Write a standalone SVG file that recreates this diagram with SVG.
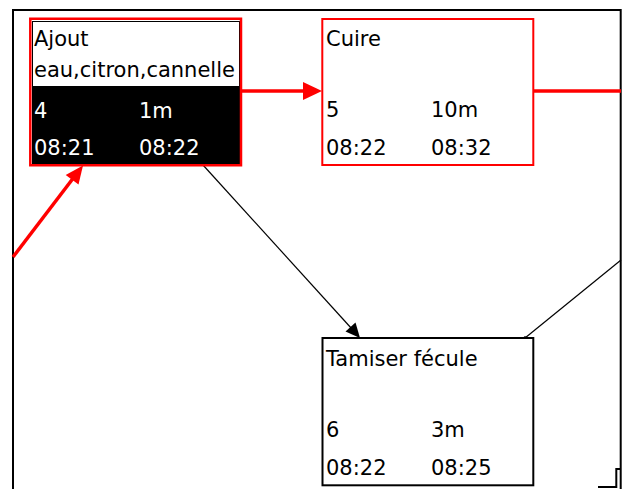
<svg xmlns="http://www.w3.org/2000/svg" width="625" height="489" viewBox="0 0 625 489">
  <style>
    .lbl { font-family: "DejaVu Sans", "Liberation Sans", sans-serif; font-size: 21px; fill: #000; }
    .inv { fill: #fff; }
    .frame { fill: none; stroke: #000; stroke-width: 2; }
    .crit { stroke: #ff0000; stroke-width: 3.5; fill: none; }
    .dep { stroke: #000; stroke-width: 1.2; fill: none; }
    .box { fill: #fff; stroke-width: 2; }
  </style>

  <rect width="625" height="489" fill="#fff"/>

  <!-- view frame (open at the bottom) -->
  <path class="frame" d="M13,489 V10 H620.7 V489"/>
  <path class="frame" d="M598,487 H616.3 V469 H621"/>

  <!-- connectors -->
  <g id="connectors">
    <!-- critical path -->
    <line class="crit" x1="13" y1="257" x2="76" y2="174.5"/>
    <polygon fill="#ff0000" points="83,165.5 78.5,184.6 65.7,175"/>
    <line class="crit" x1="242" y1="91" x2="306" y2="91"/>
    <polygon fill="#ff0000" points="322,91 303,82 303,100"/>
    <line class="crit" x1="533" y1="91" x2="621" y2="91" stroke-width="3"/>
    <!-- ordinary links -->
    <line class="dep" x1="203" y1="165" x2="352" y2="329"/>
    <polygon fill="#000" points="360,338 355.5,322.5 345.5,331.5"/>
    <line class="dep" x1="525" y1="338" x2="621" y2="260"/>
    <circle cx="525" cy="337.5" r="1.3" fill="#000"/>
  </g>

  <!-- task 4 : selected -->
  <g id="node-ajout">
    <rect x="32" y="21" width="207.5" height="65" fill="#fff"/>
    <rect x="32" y="86" width="207.5" height="77.5" fill="#000"/>
    <rect x="32.5" y="21.5" width="207" height="142" fill="none" stroke="#000" stroke-width="1"/>
    <rect x="30.3" y="18.75" width="210.7" height="146.5" fill="none" stroke="#ff0000" stroke-width="2.5"/>
    <text class="lbl" x="34" y="46">Ajout</text>
    <text class="lbl" x="34" y="77">eau,citron,cannelle</text>
    <text class="lbl inv" x="34" y="118">4</text>
    <text class="lbl inv" x="139" y="118">1m</text>
    <text class="lbl inv" x="34" y="155">08:21</text>
    <text class="lbl inv" x="139" y="155">08:22</text>
  </g>

  <!-- task 5 -->
  <g id="node-cuire">
    <rect class="box" x="322.3" y="19" width="211" height="146" stroke="#ff0000"/>
    <text class="lbl" x="326" y="46">Cuire</text>
    <text class="lbl" x="326" y="117">5</text>
    <text class="lbl" x="431" y="117">10m</text>
    <text class="lbl" x="326" y="155">08:22</text>
    <text class="lbl" x="431" y="155">08:32</text>
  </g>

  <!-- task 6 -->
  <g id="node-tamiser">
    <rect class="box" x="322.5" y="338" width="210.8" height="147.3" stroke="#000"/>
    <text class="lbl" x="326" y="366">Tamiser fécule</text>
    <text class="lbl" x="326" y="437">6</text>
    <text class="lbl" x="431" y="437">3m</text>
    <text class="lbl" x="326" y="475">08:22</text>
    <text class="lbl" x="431" y="475">08:25</text>
  </g>
</svg>
